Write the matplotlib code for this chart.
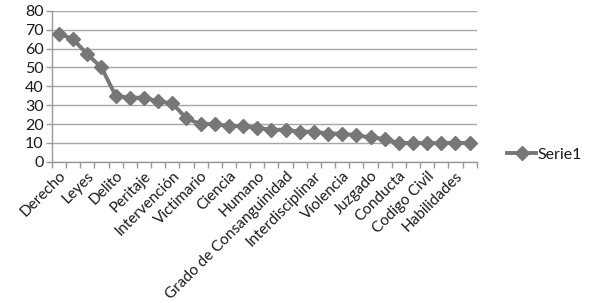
import numpy as np
import matplotlib.pyplot as plt

# values (30 categories, every other one labelled)
values = [68, 65, 57, 50, 35, 34, 34, 32, 31, 23, 20, 20, 19, 19, 18,
          17, 17, 16, 16, 15, 15, 14, 13, 12, 10, 10, 10, 10, 10, 10]
shown_labels = ['Derecho', 'Leyes', 'Delito', 'Peritaje', 'Intervención',
                'Victimario', 'Ciencia', 'Humano', 'Grado de Consanguinidad',
                'Interdisciplinar', 'Violencia', 'Juzgado', 'Conducta',
                'Codigo Civil', 'Habilidades']
y_ticks = [0, 10, 20, 30, 40, 50, 60, 70, 80]
series_name = 'Serie1'

plt.rcParams['font.family'] = ['Lato', 'DejaVu Sans']

grey = '#777777'
text_col = '#1a1a1a'

fig = plt.figure(figsize=(5.9, 3.03), dpi=100)
ax = fig.add_axes([0.088, 0.466, 0.72, 0.498])

x = np.arange(len(values))
ax.plot(x, values, color=grey, lw=2.8, marker='D', markersize=7.5,
        markerfacecolor=grey, markeredgecolor=grey, label=series_name, zorder=3)

ax.set_xlim(-0.5, len(values) - 0.5)
ax.set_ylim(0, 80)
ax.set_yticks(y_ticks)
ax.tick_params(axis='y', labelsize=11.5, colors='#999999', labelcolor=text_col,
               length=4, width=1, pad=2)
ax.grid(axis='y', color='#a6a6a6', lw=1)
ax.set_axisbelow(True)

# category boundaries get the tick marks, every other centre gets a label
ax.set_xticks(np.arange(-0.5, len(values), 1.0), minor=True)
ax.set_xticks(x[::2])
ax.set_xticklabels(shown_labels, rotation=45, ha='right', rotation_mode='anchor',
                   fontsize=11, color=text_col)
ax.tick_params(axis='x', which='major', length=0, pad=5)
ax.tick_params(axis='x', which='minor', length=4, width=1, colors='#999999')

for side in ['top', 'right']:
    ax.spines[side].set_visible(False)
for side in ['left', 'bottom']:
    ax.spines[side].set_color('#999999')
    ax.spines[side].set_linewidth(1)

fig.legend(loc='center left', bbox_to_anchor=(0.86, 0.49), frameon=False,
           fontsize=11.5, handlelength=1.8, handletextpad=0.1,
           borderaxespad=0, borderpad=0, labelcolor=text_col)

fig.savefig('out.png', dpi=100)
